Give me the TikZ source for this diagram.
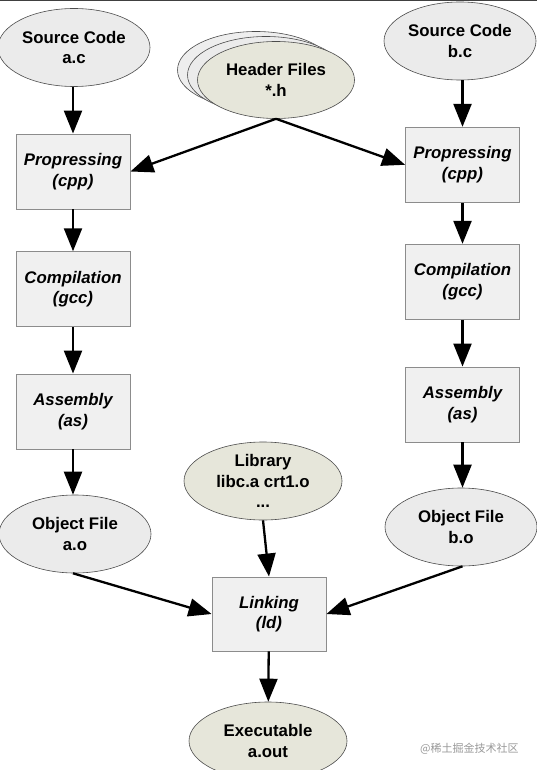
\documentclass[tikz,border=0pt]{standalone}
\usepackage{fontspec}
\setmainfont{Liberation Sans}
\newfontfamily\cjkfont{Noto Sans CJK SC}
\usetikzlibrary{shapes.geometric,arrows.meta}
\definecolor{ellgray}{HTML}{EBEBEB}
\definecolor{ellbeige}{HTML}{E6E6DA}
\definecolor{boxgray}{HTML}{F0F0F0}
\definecolor{boxline}{HTML}{8C8C8C}
\tikzset{
  ellnode/.style={ellipse, draw=black!70, line width=0.6pt, fill=ellgray, minimum width=152pt, minimum height=78pt, inner sep=0pt, align=center, font=\fontsize{16.8}{20.5}\selectfont\bfseries},
  beigenode/.style={ellnode, fill=ellbeige},
  stepbox/.style={rectangle, draw=boxline, line width=0.9pt, fill=boxgray, minimum width=114pt, minimum height=75pt, inner sep=0pt, align=center, font=\fontsize{16.8}{20.5}\selectfont\bfseries\itshape},
  flow/.style={line width=2.3pt, -{Triangle[width=18pt,length=23pt]}},
}
\begin{document}
\begin{tikzpicture}[x=1pt,y=-1pt]
\useasboundingbox (0,0) rectangle (537,770);
\fill[white] (0,0) rectangle (537,770);
\draw[black!75, line width=1.5pt] (0,0.75) -- (537,0.75);
% header stack
\node[ellnode, fill=ellgray!85, minimum width=157pt, minimum height=77pt] (hback2) at (256,70) {};
\node[ellnode, fill=ellgray, minimum width=157pt, minimum height=77pt] (hback1) at (266,75) {};
\node[beigenode, minimum width=157pt, minimum height=77pt] (hdr) at (276,80) {Header Files\\*.h};
% left column
\node[ellnode] (srca) at (74,47.5) {Source Code\\a.c};
\node[stepbox] (ppa) at (73,171.5) {Propressing\\(cpp)};
\node[stepbox] (cca) at (73,289.2) {Compilation\\(gcc)};
\node[stepbox] (asa) at (73,411.5) {Assembly\\(as)};
\node[ellnode] (obja) at (75,534) {Object File\\a.o};
% right column
\node[ellnode] (srcb) at (460,41) {Source Code\\b.c};
\node[stepbox] (ppb) at (462.5,164.8) {Propressing\\(cpp)};
\node[stepbox] (ccb) at (462.5,281.8) {Compilation\\(gcc)};
\node[stepbox] (asb) at (462.5,404.5) {Assembly\\(as)};
\node[ellnode] (objb) at (461,527) {Object File\\b.o};
% bottom
\node[beigenode, minimum width=158pt] (lib) at (263,481) {Library\\libc.a crt1.o\\...};
\node[stepbox, minimum height=74pt] (lnk) at (269,614) {Linking\\(ld)};
\node[beigenode, minimum width=158pt] (exe) at (268,741) {Executable\\a.out};
% arrows
\draw[flow] (srca.south -| ppa.north) -- (ppa.north);
\draw[flow] (ppa) -- (cca);
\draw[flow] (cca) -- (asa);
\draw[flow] (asa.south) -- (asa.south |- obja.north);
\draw[flow] (srcb.south -| ppb.north) -- (ppb.north);
\draw[flow] (ppb) -- (ccb);
\draw[flow] (ccb) -- (asb);
\draw[flow] (asb.south) -- (asb.south |- objb.north);
\draw[flow] (hdr.south) -- (ppa.east);
\draw[flow] (hdr.south) -- (ppb.west);
\draw[flow] (obja.south -| asa.south) -- (lnk.west);
\draw[flow] (objb.south -| asb.south) -- (lnk.east);
\draw[flow] (lib.south) -- (lnk.north);
\draw[flow] (lnk) -- (exe);
% watermark
\node[text=black!40, font=\cjkfont\fontsize{11}{13}\selectfont, anchor=west, inner sep=0pt] (wm) at (420,749) {@稀土掘金技术社区};
\end{tikzpicture}
\end{document}
